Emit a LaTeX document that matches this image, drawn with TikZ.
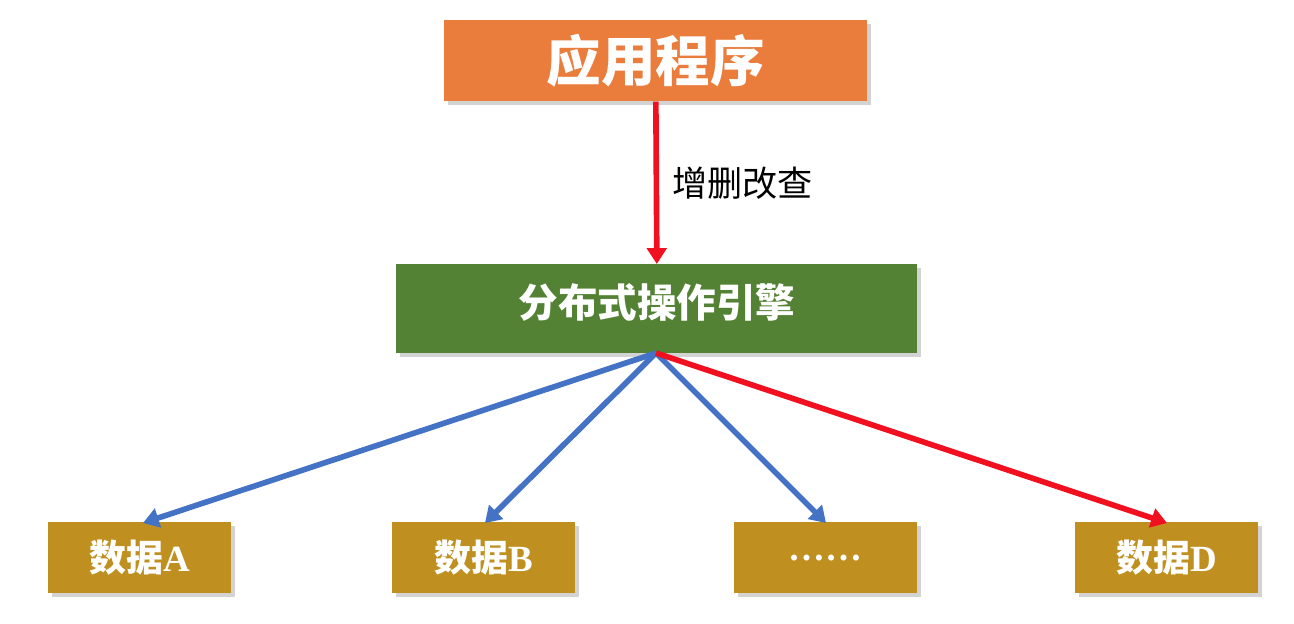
\documentclass[tikz,border=0pt]{standalone}
\usepackage{fontspec}
\newfontfamily\cjk{Noto Sans CJK SC}
\newfontfamily\lat{Liberation Serif}
\usetikzlibrary{arrows.meta,shadows}
\definecolor{orng}{HTML}{EA7D3C}
\definecolor{grn}{HTML}{548235}
\definecolor{gold}{HTML}{BF9020}
\definecolor{blu}{HTML}{4472C4}
\definecolor{rd}{HTML}{F01020}
\tikzset{
 box/.style={draw=none,anchor=north west,inner sep=0pt,font=\cjk\bfseries,text=white,drop shadow={shadow xshift=2pt,shadow yshift=-2pt,opacity=0.35}},
 arr/.style={line width=3.2pt,-{Triangle[length=9pt,width=11pt]}}
}
\begin{document}
\begin{tikzpicture}[x=0.02cm,y=-0.02cm]
\useasboundingbox (0,0) rectangle (1294,624);
\node[box,fill=orng,minimum width=423*0.02cm,minimum height=81*0.02cm,font=\cjk\bfseries\fontsize{31}{34}\selectfont] (app) at (444,20) {应用程序};
\node[box,fill=grn,minimum width=521*0.02cm,minimum height=89*0.02cm,font=\cjk\bfseries\fontsize{22.5}{26}\selectfont] (eng) at (396,264) {\raisebox{10pt}{分布式操作引擎}};
\foreach \n/\x/\t in {a/48/数据{\lat A},b/392/数据{\lat B},c/734/{\lat ……},d/1075/数据{\lat D}}{
 \node[box,fill=gold,minimum width=183*0.02cm,minimum height=71*0.02cm,font=\cjk\bfseries\fontsize{21}{24}\selectfont] (\n) at (\x,522) {\t};
}
\draw[arr,rd] (app.south) -- node[right,text=black,font=\cjk\fontsize{20}{24}\selectfont,xshift=4pt]{增删改查} (eng.north);
\coordinate (o) at (656,353);
\draw[arr,blu] (o) -- (143,523);
\draw[arr,blu] (o) -- (485,523);
\draw[arr,blu] (o) -- (826,523);
\draw[arr,rd] (o) -- (1167,523);
\end{tikzpicture}
\end{document}
